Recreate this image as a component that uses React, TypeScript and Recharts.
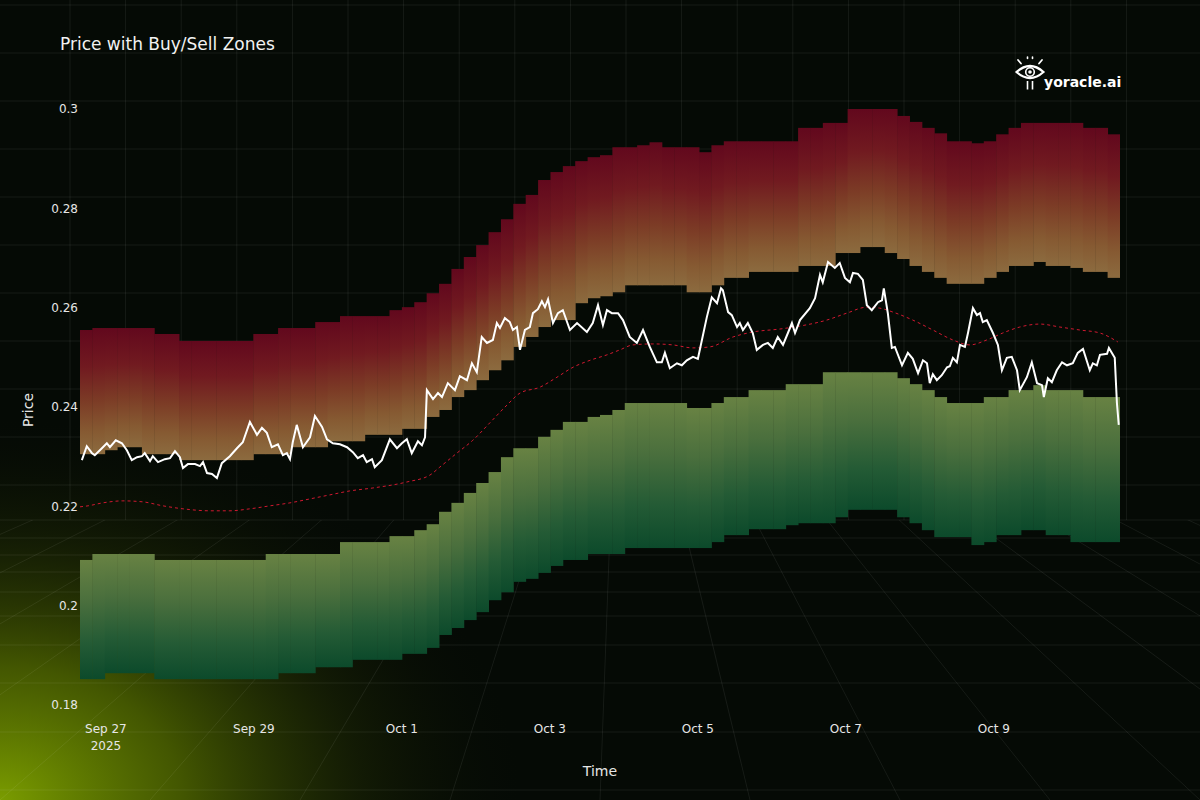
import { Bar, ComposedChart, Line, XAxis, YAxis } from "recharts";

const FONT = "DejaVu Sans, Verdana, sans-serif";
const TEXT = "#e6e6e6";
const BG = "#050a05";

// time axis: hours since Sep 27 2025 00:00
const T_MIN = -8.4;
const T_MAX = 328.9;
const TICK_HOURS = [0, 48, 96, 144, 192, 240, 288];
const TICK_LABELS = ["Sep 27\n2025", "Sep 29", "Oct 1", "Oct 3", "Oct 5", "Oct 7", "Oct 9"];
const Y_TICKS = [0.18, 0.2, 0.22, 0.24, 0.26, 0.28, 0.3];

// zone columns, one per ~4h slot from T_MIN
const SELL_TOP = [
  0.2555, 0.2559, 0.2559, 0.2559, 0.2559, 0.2559, 0.2547, 0.2547, 0.2533, 0.2533,
  0.2533, 0.2533, 0.2533, 0.2533, 0.2547, 0.2547, 0.2559, 0.2559, 0.2559, 0.2571,
  0.2571, 0.2583, 0.2583, 0.2583, 0.2583, 0.2595, 0.2601, 0.2611, 0.2629, 0.2648,
  0.2678, 0.2702, 0.2726, 0.2752, 0.2778, 0.2809, 0.2827, 0.2857, 0.2873, 0.2885,
  0.2895, 0.2903, 0.2907, 0.2923, 0.2923, 0.2927, 0.2933, 0.2923, 0.2923, 0.2923,
  0.2913, 0.2927, 0.2935, 0.2935, 0.2935, 0.2935, 0.2935, 0.2935, 0.2962, 0.2962,
  0.2972, 0.2972, 0.3, 0.3, 0.3, 0.3, 0.2986, 0.2974, 0.2962, 0.2951,
  0.2935, 0.2935, 0.2931, 0.2935, 0.2949, 0.2962, 0.2972, 0.2972, 0.2972, 0.2972,
  0.2972, 0.2962, 0.2962, 0.2949,
];
const SELL_BOTTOM = [
  0.2305, 0.2305, 0.2313, 0.2319, 0.2319, 0.2305, 0.2305, 0.2305, 0.2293, 0.2293,
  0.2293, 0.2293, 0.2293, 0.2293, 0.2305, 0.2305, 0.2305, 0.2319, 0.2319, 0.2319,
  0.2331, 0.2331, 0.2331, 0.2344, 0.2344, 0.2344, 0.2356, 0.2356, 0.238, 0.2394,
  0.242, 0.2434, 0.2454, 0.2474, 0.2494, 0.2521, 0.2541, 0.2561, 0.2575, 0.2575,
  0.2609, 0.2619, 0.2623, 0.2631, 0.2645, 0.2645, 0.2645, 0.2645, 0.2645, 0.2631,
  0.2631, 0.2645, 0.266, 0.266, 0.2672, 0.2672, 0.2672, 0.2672, 0.2684, 0.2684,
  0.2684, 0.271, 0.271, 0.2722, 0.2722, 0.271, 0.2698, 0.2684, 0.2672, 0.266,
  0.2648, 0.2648, 0.2648, 0.266, 0.2672, 0.2684, 0.2684, 0.2692, 0.2684, 0.2684,
  0.268, 0.2672, 0.2672, 0.266,
];
const BUY_TOP = [
  0.2092, 0.2104, 0.2104, 0.2104, 0.2104, 0.2104, 0.2092, 0.2092, 0.2092, 0.2092,
  0.2092, 0.2092, 0.2092, 0.2092, 0.2092, 0.2104, 0.2104, 0.2104, 0.2104, 0.2104,
  0.2104, 0.2128, 0.2128, 0.2128, 0.2128, 0.214, 0.214, 0.2152, 0.2164, 0.2189,
  0.2207, 0.2227, 0.2247, 0.2269, 0.2299, 0.2317, 0.2317, 0.234, 0.2354, 0.237,
  0.237, 0.238, 0.2384, 0.2394, 0.2408, 0.2408, 0.2408, 0.2408, 0.2408, 0.2398,
  0.2398, 0.2408, 0.242, 0.242, 0.2434, 0.2434, 0.2434, 0.2446, 0.2446, 0.2446,
  0.247, 0.247, 0.247, 0.247, 0.247, 0.247, 0.2458, 0.2446, 0.2434, 0.242,
  0.2408, 0.2408, 0.2408, 0.242, 0.242, 0.2434, 0.2434, 0.2444, 0.2434, 0.2434,
  0.2434, 0.242, 0.242, 0.242,
];
const BUY_BOTTOM = [
  0.1852, 0.1852, 0.1864, 0.1864, 0.1864, 0.1864, 0.1852, 0.1852, 0.1852, 0.1852,
  0.1852, 0.1852, 0.1852, 0.1852, 0.1852, 0.1852, 0.1864, 0.1864, 0.1864, 0.1876,
  0.1876, 0.1876, 0.1891, 0.1891, 0.1891, 0.1891, 0.1903, 0.1903, 0.1915, 0.1941,
  0.1955, 0.1971, 0.1987, 0.2011, 0.2027, 0.2048, 0.2054, 0.2066, 0.208, 0.2092,
  0.2092, 0.2104, 0.2104, 0.2104, 0.2116, 0.2116, 0.2116, 0.2116, 0.2116, 0.2116,
  0.2116, 0.2128, 0.2142, 0.2142, 0.2154, 0.2154, 0.2154, 0.2162, 0.2166, 0.2166,
  0.2166, 0.2178, 0.2193, 0.2193, 0.2193, 0.2193, 0.2178, 0.2166, 0.2152, 0.2138,
  0.2138, 0.2138, 0.2122, 0.2128, 0.2142, 0.2142, 0.2152, 0.2152, 0.2142, 0.2142,
  0.2128, 0.2128, 0.2128, 0.2128,
];

const PRICE_HOURS = [
  -7.8, -6.2, -4.5, -3.6, -1.3, 0.3, 1.3, 3.2, 5.2, 6.8,
  8.4, 10.1, 11.7, 12.6, 14.3, 15.2, 16.9, 19.1, 20.8, 22.4,
  24.0, 25.0, 26.6, 28.9, 30.5, 31.5, 32.8, 34.4, 36.0, 37.6,
  40.2, 42.5, 44.4, 46.7, 49.0, 50.6, 52.2, 53.8, 55.8, 57.4,
  58.7, 59.7, 60.6, 61.9, 63.9, 66.2, 67.8, 70.1, 71.7, 73.6,
  75.9, 78.2, 80.1, 81.7, 83.4, 84.6, 86.3, 87.2, 89.5, 92.1,
  94.4, 96.0, 97.6, 99.2, 101.2, 102.5, 103.5, 104.1, 106.1, 107.7,
  109.0, 110.9, 113.2, 114.8, 117.1, 118.7, 120.3, 121.9, 123.6, 125.5,
  126.8, 127.8, 129.4, 131.0, 132.0, 133.3, 134.3, 135.9, 137.5, 138.5,
  140.1, 141.4, 142.4, 143.4, 145.0, 146.6, 148.2, 150.5, 152.8, 156.0,
  157.9, 159.6, 161.2, 162.5, 164.1, 166.1, 167.7, 169.9, 172.2, 174.2,
  176.4, 178.7, 180.3, 181.3, 182.9, 185.2, 186.8, 188.4, 190.4, 192.0,
  194.9, 196.5, 198.2, 199.5, 200.1, 201.8, 203.0, 204.7, 205.6, 206.6,
  208.2, 209.8, 211.1, 213.1, 214.7, 216.3, 217.9, 219.6, 221.2, 222.5,
  223.5, 225.1, 228.3, 230.0, 231.6, 232.5, 234.2, 236.4, 238.0, 239.7,
  241.3, 242.3, 243.9, 245.5, 246.8, 248.4, 250.4, 251.7, 252.3, 253.6,
  254.9, 255.9, 258.2, 260.1, 261.7, 263.4, 265.0, 266.3, 267.2, 268.2,
  269.5, 271.1, 272.8, 273.7, 274.7, 276.0, 277.0, 278.6, 279.6, 281.2,
  282.5, 283.5, 284.4, 285.7, 287.7, 289.3, 290.6, 292.2, 293.8, 295.5,
  296.4, 298.7, 300.3, 302.0, 303.6, 304.2, 305.5, 306.8, 308.4, 310.1,
  311.7, 313.6, 315.2, 316.9, 319.1, 320.1, 321.4, 322.4, 324.7, 325.3,
  327.2, 327.9, 328.5,
];
const PRICE = [
  0.2293, 0.2321, 0.2307, 0.2303, 0.2317, 0.2327, 0.2319, 0.2333, 0.2327, 0.2313,
  0.2293, 0.2299, 0.2301, 0.2307, 0.2291, 0.2301, 0.2289, 0.2295, 0.2297, 0.2311,
  0.2299, 0.2277, 0.2285, 0.2285, 0.2281, 0.2289, 0.2267, 0.2265, 0.2257, 0.2287,
  0.2301, 0.2317, 0.2329, 0.237, 0.2344, 0.2358, 0.2348, 0.2319, 0.2325, 0.2303,
  0.2307, 0.2295, 0.2329, 0.2364, 0.2319, 0.2339, 0.2382, 0.236, 0.2335, 0.2327,
  0.2325, 0.2319, 0.2309, 0.2297, 0.2303, 0.2289, 0.2295, 0.2279, 0.2293, 0.2335,
  0.2317, 0.2327, 0.2335, 0.2307, 0.2331, 0.2323, 0.2339, 0.2434, 0.2416, 0.2428,
  0.242, 0.2448, 0.2434, 0.2462, 0.2454, 0.2488, 0.247, 0.2541, 0.2529, 0.2535,
  0.2569, 0.2559, 0.2579, 0.2571, 0.2555, 0.2561, 0.2515, 0.2555, 0.2561, 0.2589,
  0.2597, 0.2613, 0.2601, 0.2617, 0.2569, 0.2589, 0.2595, 0.2555, 0.2569, 0.2551,
  0.2569, 0.2605, 0.2565, 0.2595, 0.2589, 0.2589, 0.2575, 0.2541, 0.2529, 0.2555,
  0.2521, 0.249, 0.249, 0.2509, 0.2478, 0.2488, 0.2484, 0.2494, 0.2501, 0.2497,
  0.2581, 0.2621, 0.2609, 0.2639, 0.2635, 0.2591, 0.2585, 0.2561, 0.2569, 0.2555,
  0.2569, 0.2549, 0.2515, 0.2525, 0.2529, 0.2519, 0.2541, 0.2525, 0.2549, 0.2569,
  0.2549, 0.2575, 0.2599, 0.2619, 0.2666, 0.2651, 0.2692, 0.268, 0.269, 0.266,
  0.2651, 0.267, 0.2668, 0.2656, 0.2605, 0.2595, 0.2611, 0.2615, 0.2639, 0.2589,
  0.2519, 0.2521, 0.2484, 0.2509, 0.2497, 0.2468, 0.2494, 0.2488, 0.2448, 0.2466,
  0.2454, 0.2464, 0.248, 0.2482, 0.2499, 0.249, 0.2525, 0.2521, 0.2549, 0.2599,
  0.2585, 0.2589, 0.2571, 0.2575, 0.2549, 0.2525, 0.2474, 0.2499, 0.2501, 0.2474,
  0.2434, 0.246, 0.249, 0.2448, 0.2444, 0.242, 0.2458, 0.245, 0.2474, 0.249,
  0.2484, 0.2488, 0.2509, 0.2517, 0.2474, 0.2488, 0.2484, 0.2505, 0.2507, 0.2519,
  0.2499, 0.2408, 0.2364,
];

const MA_HOURS = [
  -8.4, -5.8, -1.0, 5.5, 12.0, 18.5, 25.0, 33.7, 40.2, 46.7,
  53.2, 59.7, 66.2, 72.6, 79.1, 86.6, 97.6, 105.1, 108.3, 113.8,
  119.0, 124.5, 130.1, 134.3, 140.8, 146.3, 151.5, 157.0, 162.5, 166.7,
  170.9, 177.4, 183.9, 190.4, 195.9, 203.4, 209.8, 218.6, 225.1, 233.8,
  240.3, 246.8, 251.0, 255.3, 261.7, 268.2, 274.7, 280.2, 285.7, 290.9,
  296.4, 302.9, 309.4, 315.9, 322.4, 328.2,
];
const MA = [
  0.2199, 0.2201, 0.2207, 0.2211, 0.2209, 0.2201, 0.2195, 0.2191, 0.2191, 0.2195,
  0.2201, 0.2207, 0.2215, 0.2223, 0.2231, 0.2237, 0.2249, 0.2263, 0.2279, 0.2307,
  0.2333, 0.2368, 0.2404, 0.2428, 0.244, 0.246, 0.248, 0.2494, 0.2505, 0.2515,
  0.2525, 0.2527, 0.2525, 0.2519, 0.2521, 0.2541, 0.2551, 0.2557, 0.2563, 0.2575,
  0.2589, 0.2601, 0.2599, 0.2591, 0.2575, 0.2555, 0.2535, 0.2525, 0.2535, 0.2549,
  0.2561, 0.2567, 0.2561, 0.2555, 0.2549, 0.2531,
];

const ZONE_STEP = (T_MAX - T_MIN) / SELL_TOP.length;
const zoneRows = SELL_TOP.map((top, i) => ({
  t: T_MIN + (i + 0.5) * ZONE_STEP,
  sell: [SELL_BOTTOM[i], top],
  buy: [BUY_BOTTOM[i], BUY_TOP[i]],
}));

const lineRows = [
  ...PRICE_HOURS.map((t, i) => ({ t, price: PRICE[i] })),
  ...MA_HOURS.map((t, i) => ({ t, ma: MA[i] })),
].sort((a, b) => a.t - b.t);

const MARGIN = { top: 109, right: 80, bottom: 95, left: 80 };

// zone column; stretched a little to the right so the next column hides the seam
function ZoneRect(props: any) {
  const { x, y, width, height, fill } = props;
  if (x == null || !Number.isFinite(height)) return null;
  const top = Math.min(y, y + height);
  return <rect x={x} y={top} width={width + 0.8} height={Math.abs(height)} fill={fill} />;
}

function DateTick(props: any) {
  const { x, y, payload } = props;
  const idx = TICK_HOURS.indexOf(payload.value);
  const lines = (TICK_LABELS[idx] ?? "").split("\n");
  return (
    <text x={x} y={y} textAnchor="middle" fill={TEXT} fontSize={12} fontFamily={FONT}>
      {lines.map((l, i) => (
        <tspan key={i} x={x} dy={i === 0 ? -4 : 17}>
          {l}
        </tspan>
      ))}
    </text>
  );
}

function Backdrop() {
  const wallX: number[] = [];
  for (let x = 70; x <= 1160; x += 55.6) wallX.push(x);
  const wallY: number[] = [];
  for (let y = 5; y < 520; y += 48) wallY.push(y);
  const floorY = [520, 538, 555, 572, 592, 616, 645, 683, 732, 790];
  const fan: number[] = [];
  for (let x = -900; x <= 2200; x += 150) fan.push(x);
  const line = "rgba(255,255,255,0.07)";
  return (
    <svg width={1200} height={800} style={{ position: "absolute", left: 0, top: 0 }}>
      <defs>
        <radialGradient id="glow" cx="50%" cy="50%" r="50%">
          <stop offset="0%" stopColor="#7a9c00" stopOpacity={1} />
          <stop offset="35%" stopColor="#4e6400" stopOpacity={0.85} />
          <stop offset="70%" stopColor="#1f2a04" stopOpacity={0.5} />
          <stop offset="100%" stopColor="#0a1004" stopOpacity={0} />
        </radialGradient>
        <clipPath id="floor">
          <rect x={0} y={520} width={1200} height={280} />
        </clipPath>
      </defs>
      <rect width={1200} height={800} fill={BG} />
      <ellipse cx={0} cy={800} rx={520} ry={380} fill="url(#glow)" />
      {wallX.map((x) => (
        <line key={`wx${x}`} x1={x} y1={0} x2={x} y2={520} stroke={line} />
      ))}
      {wallY.map((y) => (
        <line key={`wy${y}`} x1={0} y1={y} x2={1200} y2={y} stroke={line} />
      ))}
      {floorY.map((y) => (
        <line key={`fy${y}`} x1={0} y1={y} x2={1200} y2={y} stroke={line} />
      ))}
      <g clipPath="url(#floor)">
        {fan.map((x) => (
          <line key={`f${x}`} x1={620} y1={260} x2={x} y2={800} stroke={line} />
        ))}
      </g>
    </svg>
  );
}

function Overlay() {
  return (
    <svg width={1200} height={800} style={{ position: "absolute", left: 0, top: 0, pointerEvents: "none" }}>
      <text x={60} y={50} fill="#f2f2f2" fontSize={17} fontFamily={FONT}>
        Price with Buy/Sell Zones
      </text>
      <text x={600} y={776} fill={TEXT} fontSize={14} fontFamily={FONT} textAnchor="middle">
        Time
      </text>
      <text
        x={33}
        y={410}
        fill={TEXT}
        fontSize={14}
        fontFamily={FONT}
        textAnchor="middle"
        transform="rotate(-90 33 410)"
      >
        Price
      </text>
      <g stroke="#ffffff" fill="none" strokeLinecap="round">
        <path d="M1016.5 72 Q1030 60 1043.5 72 Q1030 84 1016.5 72 Z" strokeWidth={2.2} />
        <circle cx={1030} cy={72} r={4.3} strokeWidth={1.6} />
        <line x1={1018} y1={60} x2={1021} y2={63.5} strokeWidth={1.8} />
        <line x1={1042} y1={60} x2={1039} y2={63.5} strokeWidth={1.8} />
        <line x1={1027.5} y1={57} x2={1027.5} y2={58.5} strokeWidth={1.6} />
        <line x1={1032.5} y1={57} x2={1032.5} y2={58.5} strokeWidth={1.6} />
        <line x1={1027.5} y1={81} x2={1027.5} y2={89.5} strokeWidth={1.6} strokeLinecap="butt" />
        <line x1={1032.5} y1={81} x2={1032.5} y2={89.5} strokeWidth={1.6} strokeLinecap="butt" />
      </g>
      <circle cx={1030} cy={72} r={1.8} fill="#ffffff" />
      <text x={1044} y={87} fill="#ffffff" fontSize={14} fontWeight="bold" fontFamily={FONT}>
        yoracle.ai
      </text>
    </svg>
  );
}

export default function App() {
  return (
    <div style={{ position: "relative", width: 1200, height: 800, overflow: "hidden", background: BG }}>
      <style>{"body{margin:0;background:#050a05}"}</style>
      <Backdrop />
      <div style={{ position: "absolute", left: 0, top: 0 }}>
        <ComposedChart
          width={1200}
          height={800}
          data={zoneRows}
          margin={{ top: MARGIN.top, right: MARGIN.right, bottom: MARGIN.bottom - 60, left: 0 }}
          barCategoryGap={0}
          barGap={0}
        >
          <defs>
            <linearGradient id="sellGrad" x1="0" y1="0" x2="0" y2="1">
              <stop offset="0%" stopColor="#62081d" />
              <stop offset="30%" stopColor="#711a20" />
              <stop offset="58%" stopColor="#7c3c26" />
              <stop offset="82%" stopColor="#865a32" />
              <stop offset="100%" stopColor="#8c6b3f" />
            </linearGradient>
            <linearGradient id="buyGrad" x1="0" y1="0" x2="0" y2="1">
              <stop offset="0%" stopColor="#688243" />
              <stop offset="35%" stopColor="#4a6f3d" />
              <stop offset="70%" stopColor="#245b35" />
              <stop offset="100%" stopColor="#0c4a2b" />
            </linearGradient>
          </defs>
          <XAxis
            xAxisId="sell"
            type="number"
            dataKey="t"
            domain={[T_MIN, T_MAX]}
            ticks={TICK_HOURS}
            interval={0}
            allowDataOverflow
            tick={<DateTick />}
            tickLine={false}
            axisLine={false}
            tickSize={0}
            height={60}
          />
          <XAxis xAxisId="buy" hide type="number" dataKey="t" domain={[T_MIN, T_MAX]} allowDataOverflow />
          <YAxis
            type="number"
            domain={[0.18, 0.3]}
            ticks={Y_TICKS}
            allowDataOverflow
            width={80}
            tickLine={false}
            axisLine={false}
            tickSize={0}
            tickMargin={2}
            tick={{ fill: TEXT, fontSize: 12, fontFamily: FONT }}
            tickFormatter={(v: number) => String(v)}
          />
          <Bar xAxisId="sell" dataKey="sell" fill="url(#sellGrad)" shape={<ZoneRect />} isAnimationActive={false} />
          <Bar xAxisId="buy" dataKey="buy" fill="url(#buyGrad)" shape={<ZoneRect />} isAnimationActive={false} />
        </ComposedChart>
      </div>
      <div style={{ position: "absolute", left: 0, top: 0 }}>
        <ComposedChart width={1200} height={800} data={lineRows} margin={MARGIN}>
          <XAxis hide type="number" dataKey="t" domain={[T_MIN, T_MAX]} allowDataOverflow />
          <YAxis hide type="number" domain={[0.18, 0.3]} allowDataOverflow />
          <Line
            dataKey="ma"
            type="monotone"
            stroke="#d01830"
            strokeWidth={1}
            strokeDasharray="3 3"
            dot={false}
            connectNulls
            isAnimationActive={false}
          />
          <Line
            dataKey="price"
            type="linear"
            stroke="#ffffff"
            strokeWidth={2}
            dot={false}
            connectNulls
            isAnimationActive={false}
          />
        </ComposedChart>
      </div>
      <Overlay />
    </div>
  );
}
